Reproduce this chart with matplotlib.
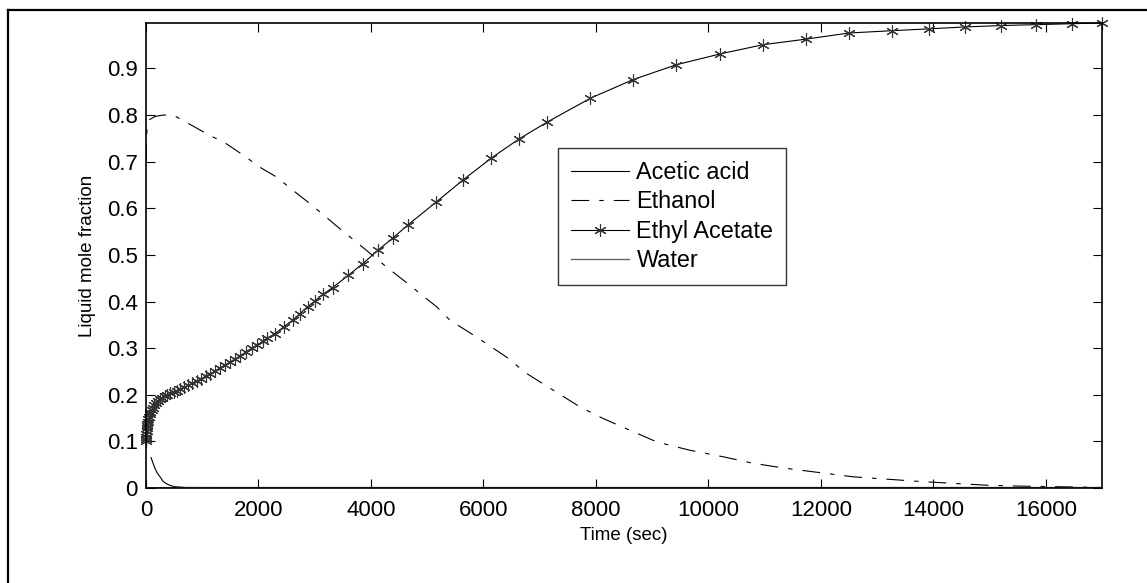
"""Liquid mole fraction profiles vs time for the esterification batch run."""

import matplotlib
matplotlib.use("Agg")
import matplotlib.pyplot as plt
from matplotlib.lines import Line2D

plt.rcParams["font.family"] = ["Liberation Sans", "DejaVu Sans"]

# ethyl acetate (solver output points, dense at the start)
t_ea = [0, 2, 5, 8, 12, 16, 20, 25, 30, 40, 50, 65, 80, 100, 125, 150, 180, 210,
        250, 290, 330, 380, 430, 490, 550, 610, 680, 750, 820, 900, 980, 1060,
        1140, 1230, 1320, 1410, 1500, 1590, 1680, 1780, 1880, 1980, 2080, 2145,
        2293, 2453, 2607, 2738, 2874, 3004, 3153, 3319, 3596, 3852, 4124, 4397,
        4664, 5156, 5640, 6143, 6636, 7134, 7901, 8660, 9431, 10204, 10974,
        11744, 12497, 13268, 13926, 14560, 15200, 15830, 16470, 17000]
x_ea = [0.100, 0.105, 0.110, 0.116, 0.122, 0.128, 0.133, 0.138, 0.142, 0.148,
        0.153, 0.158, 0.162, 0.167, 0.172, 0.177, 0.182, 0.186, 0.190, 0.194,
        0.197, 0.200, 0.203, 0.206, 0.209, 0.213, 0.216, 0.220, 0.225, 0.229,
        0.234, 0.240, 0.245, 0.251, 0.258, 0.264, 0.271, 0.277, 0.284, 0.292,
        0.300, 0.307, 0.315, 0.321, 0.331, 0.346, 0.360, 0.374, 0.389, 0.401,
        0.416, 0.430, 0.456, 0.481, 0.510, 0.537, 0.565, 0.613, 0.661, 0.708,
        0.749, 0.785, 0.836, 0.876, 0.908, 0.931, 0.951, 0.963, 0.976, 0.981,
        0.985, 0.989, 0.992, 0.994, 0.996, 0.9975]

# ethanol
t_eth = [0, 3, 8, 15, 30, 60, 160, 300, 485, 812, 1079, 1434, 1730, 2027, 2323,
         2619, 2916, 3449, 3778, 4278, 4575, 5166, 5404, 5876, 6409, 6764, 7239,
         7716, 8130, 8604, 9079, 9671, 10262, 10796, 11389, 11982, 12575, 13167,
         13760, 14352, 14945, 15537, 16130, 17000]
x_eth = [0.700, 0.720, 0.745, 0.765, 0.780, 0.790, 0.797, 0.800, 0.800, 0.778,
         0.760, 0.738, 0.714, 0.688, 0.667, 0.638, 0.610, 0.556, 0.524, 0.474,
         0.446, 0.389, 0.360, 0.324, 0.281, 0.246, 0.210, 0.174, 0.149, 0.124,
         0.099, 0.081, 0.067, 0.053, 0.042, 0.033, 0.024, 0.019, 0.014, 0.010,
         0.006, 0.004, 0.003, 0.001]

# acetic acid
t_aa = [90, 120, 160, 200, 250, 300, 350, 420, 500, 700, 17000]
x_aa = [0.065, 0.055, 0.042, 0.032, 0.024, 0.015, 0.010, 0.006, 0.003, 0.001, 0.0]

# water
t_w = [0, 500, 17000]
x_w = [0.0, 0.001, 0.001]

fig = plt.figure(figsize=(11.47, 5.83), dpi=100)
ax = fig.add_axes([146 / 1147, 1 - 488 / 583, (1102 - 146) / 1147, (488 - 23) / 583])

ax.plot(t_aa, x_aa, color="black", lw=0.8, label="Acetic acid")
ax.plot(t_eth, x_eth, color="black", lw=0.8, dashes=[16, 9, 4, 9], label="Ethanol")
ax.plot(t_ea, x_ea, color="black", lw=0.8, marker=(6, 2, 0), markersize=9,
        markeredgewidth=0.8, markeredgecolor="0.2", clip_on=False,
        label="Ethyl Acetate")
ax.plot(t_w, x_w, color="0.4", lw=1.0, label="Water")

ax.set_xlim(0, 17000)
ax.set_ylim(0, max(x_ea))
ax.set_xticks([0, 2000, 4000, 6000, 8000, 10000, 12000, 14000, 16000])
ax.set_yticks([0, 0.1, 0.2, 0.3, 0.4, 0.5, 0.6, 0.7, 0.8, 0.9])
ax.set_yticklabels(["0", "0.1", "0.2", "0.3", "0.4", "0.5", "0.6", "0.7", "0.8", "0.9"])
ax.tick_params(direction="in", length=6.5, width=0.8, top=True, right=True,
               labelsize=16)
ax.tick_params(axis="x", pad=9)
ax.tick_params(axis="y", pad=6)
for s in ax.spines.values():
    s.set_linewidth(1.2)

ax.set_xlabel("Time (sec)", fontsize=13.5, labelpad=4)
ax.set_ylabel("Liquid mole fraction", fontsize=13.5, labelpad=8)

leg = ax.legend(loc="upper left", bbox_to_anchor=(0.4313, 0.7305), fontsize=16.8,
                frameon=True, fancybox=False, handlelength=2.5, handletextpad=0.3,
                labelspacing=0.27, borderpad=0.55, borderaxespad=0)
leg.get_frame().set_edgecolor("black")
leg.get_frame().set_linewidth(1.0)

# outer frame (left and top edges visible)
fig.add_artist(Line2D([8 / 1147, 8 / 1147], [0, 1 - 10 / 583], color="black", lw=1.6,
                      transform=fig.transFigure))
fig.add_artist(Line2D([8 / 1147, 1], [1 - 10 / 583, 1 - 10 / 583], color="black", lw=1.6,
                      transform=fig.transFigure))

fig.savefig("out.png", dpi=100)
